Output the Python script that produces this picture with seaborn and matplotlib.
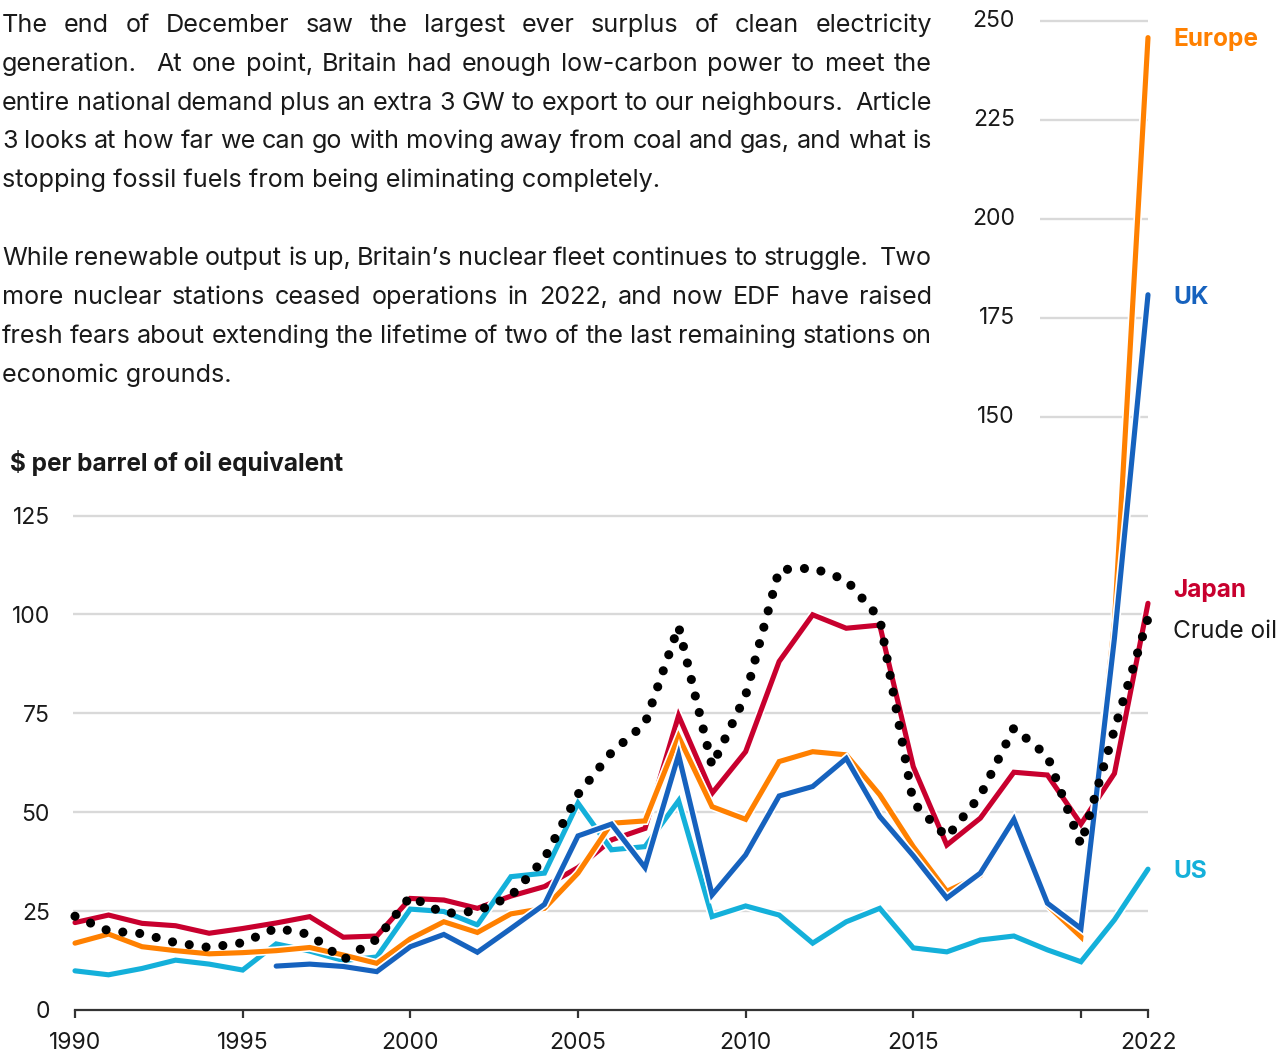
import matplotlib
matplotlib.use("Agg")
import matplotlib.pyplot as plt
import matplotlib.patheffects as pe
import numpy as np
import pandas as pd
import seaborn as sns

# ---------------------------------------------------------------- data
years = list(range(1990, 2023))

japan = [22.1, 24.0, 21.9, 21.3, 19.4, 20.6, 22.0, 23.6, 18.4, 18.7,
         28.2, 27.8, 25.7, 28.8, 31.2, 36.0, 43.0, 45.9, 74.4, 54.8,
         65.3, 88.1, 99.9, 96.5, 97.3, 61.5, 41.7, 48.5, 60.1, 59.4,
         47.0, 59.8, 102.8]
us = [9.9, 8.9, 10.5, 12.6, 11.6, 10.1, 16.7, 14.9, 12.5, 13.4,
      25.5, 24.9, 21.5, 33.7, 34.6, 52.3, 40.5, 41.3, 52.9, 23.6,
      26.3, 24.0, 16.9, 22.3, 25.7, 15.7, 14.7, 17.7, 18.7, 15.2,
      12.2, 22.8, 35.6]
europe = [16.9, 19.2, 16.0, 15.0, 14.2, 14.5, 15.0, 15.8, 13.9, 11.8,
          18.0, 22.3, 19.6, 24.3, 25.7, 34.6, 47.2, 47.8, 69.1, 51.4,
          48.2, 62.8, 65.3, 64.5, 54.4, 41.3, 30.0, 34.0, 47.8, 26.5,
          18.5, 98.0, 245.8]
uk = [np.nan, np.nan, np.nan, np.nan, np.nan, np.nan, 11.1, 11.6, 11.0, 9.7,
      16.0, 19.1, 14.6, 20.6, 26.7, 44.0, 47.0, 36.0, 64.5, 29.1,
      39.2, 54.1, 56.5, 63.6, 48.9, 39.0, 28.3, 34.6, 48.2, 27.0,
      20.6, 94.0, 180.8]
crude_oil = [23.7, 20.0, 19.3, 17.0, 15.8, 17.0, 20.7, 19.1, 12.7, 17.9,
             28.7, 24.4, 25.0, 28.8, 38.3, 54.5, 65.1, 72.4, 97.0, 61.7,
             79.5, 111.3, 111.7, 108.7, 99.0, 52.4, 43.7, 54.2, 71.3, 64.2,
             41.8, 70.9, 99.0]

x_ticks = [1990, 1995, 2000, 2005, 2010, 2015, 2020, 2022]
x_tick_labels = ["1990", "1995", "2000", "2005", "2010", "2015", "", "2022"]
y_ticks_low = [0, 25, 50, 75, 100, 125]
y_ticks_high = [150, 175, 200, 225, 250]

y_title = "$ per barrel of oil equivalent"

paragraphs = [
    ["The end of December saw the largest ever surplus of clean electricity",
     "generation.  At one point, Britain had enough low-carbon power to meet the",
     "entire national demand plus an extra 3 GW to export to our neighbours.  Article",
     "3 looks at how far we can go with moving away from coal and gas, and what is",
     "stopping fossil fuels from being eliminating completely."],
    ["While renewable output is up, Britain\u2019s nuclear fleet continues to struggle.  Two",
     "more nuclear stations ceased operations in 2022, and now EDF have raised",
     "fresh fears about extending the lifetime of two of the last remaining stations on",
     "economic grounds."],
]

df = pd.DataFrame({"year": years, "Japan": japan, "US": us,
                   "Europe": europe, "UK": uk, "Crude oil": crude_oil})

# ---------------------------------------------------------------- style
COLORS = {"Europe": "#FF8000", "UK": "#1662BE", "Japan": "#C8002E",
          "US": "#14B0DA"}
GRID = "#D9D9D9"
INK = "#1A1A1A"

W, H, DPI = 1288, 1053, 100

sns.set_theme(style="white")
plt.rcParams["font.family"] = ["Inter", "DejaVu Sans"]

fig = plt.figure(figsize=(W / DPI, H / DPI), dpi=DPI)
fig.patch.set_facecolor("white")

# axes frame in pixel terms: x 1990..2022 -> 75..1148, y 0..250 -> 1010..21
AX_L, AX_R, AX_B, AX_T = 75, 1148, 1010, 21
ax = fig.add_axes([AX_L / W, 1 - AX_B / H, (AX_R - AX_L) / W, (AX_B - AX_T) / H])
ax.set_xlim(1990, 2022)
ax.set_ylim(0, 250)
ax.set_facecolor("none")

px_per_year = (AX_R - AX_L) / (2022 - 1990)


def x_at(px):
    return 1990 + (px - AX_L) / px_per_year


# gridlines: full width up to 125, short stubs on the right above it
for v in y_ticks_low[1:]:
    ax.hlines(v, x_at(73), 2022, color=GRID, lw=1.7, zorder=1, clip_on=False)
for v in y_ticks_high:
    ax.hlines(v, x_at(1040), 2022, color=GRID, lw=1.7, zorder=1, clip_on=False)

# gas price series, each with a thin white halo
LW = 3.7
halo = [pe.Stroke(linewidth=LW + 2.4, foreground="white"), pe.Normal()]
for z, name in enumerate(["Japan", "US", "Europe", "UK"]):
    sns.lineplot(data=df, x="year", y=name, ax=ax, color=COLORS[name],
                 linewidth=LW, zorder=3 + z, clip_on=False,
                 solid_joinstyle="miter", solid_capstyle="round",
                 path_effects=halo)

# crude oil as a round-dotted line
sns.lineplot(data=df, x="year", y="Crude oil", ax=ax, color="black",
             linewidth=6.6, zorder=8, clip_on=False)
crude_line = ax.lines[-1]
crude_line.set_linestyle((0, (0.001, 1.85)))
crude_line.set_dash_capstyle("round")

# end-of-line labels
label_x = 2022 + 25 / px_per_year
LABEL_SIZE = 17.6
ax.text(label_x, 245.3, "Europe", color=COLORS["Europe"], fontsize=LABEL_SIZE,
        fontweight="bold", va="center", ha="left")
ax.text(label_x, 180.2, "UK", color=COLORS["UK"], fontsize=LABEL_SIZE,
        fontweight="bold", va="center", ha="left")
ax.text(label_x, 106.1, "Japan", color=COLORS["Japan"], fontsize=LABEL_SIZE,
        fontweight="bold", va="center", ha="left")
ax.text(label_x, 95.7, "Crude oil", color=INK, fontsize=LABEL_SIZE,
        va="center", ha="left")
ax.text(label_x, 35.0, "US", color=COLORS["US"], fontsize=LABEL_SIZE,
        fontweight="bold", va="center", ha="left")

# axes, ticks and tick labels
for side in ["left", "right", "top"]:
    ax.spines[side].set_visible(False)
ax.spines["bottom"].set_color("#333333")
ax.spines["bottom"].set_linewidth(1.6)
ax.spines["bottom"].set_zorder(9)

TICK_SIZE = 16.5
ax.set_xticks(x_ticks)
ax.set_xticklabels(x_tick_labels)
ax.tick_params(axis="x", direction="out", length=6, width=1.6, color="#333333",
               pad=10, labelsize=TICK_SIZE, labelcolor=INK, bottom=True)
ax.set_yticks(y_ticks_low)
ax.set_yticklabels([str(v) for v in y_ticks_low])
ax.tick_params(axis="y", length=0, pad=18, labelsize=TICK_SIZE, labelcolor=INK)
for v in y_ticks_high:
    ax.text(x_at(1015), v, str(v), fontsize=TICK_SIZE, color=INK,
            ha="right", va="center")
ax.set_xlabel("")
ax.set_ylabel("")

# unit title above the lower scale
fig.text(10 / W, 1 - 463 / H, y_title, fontsize=17.5, fontweight="bold",
         color=INK, ha="left", va="center")

# ---------------------------------------------------------------- body text
renderer = fig.canvas.get_renderer()


def text_width(s, size):
    t = fig.text(0, 0, s, fontsize=size)
    w = t.get_window_extent(renderer).width
    t.remove()
    return w


BODY_LEFT, BODY_RIGHT = 2, 932
body_size = 16.0
body_size *= 660 / text_width(paragraphs[0][-1], body_size)


def put_line(line, baseline, justify):
    if not justify:
        fig.text(BODY_LEFT / W, 1 - baseline / H, line, fontsize=body_size,
                 color=INK, ha="left", va="baseline")
        return
    tokens = line.split(" ")
    words = [w for w in tokens if w]
    gaps = len(tokens) - 1
    widths = [text_width(w, body_size) for w in words]
    space = (BODY_RIGHT - BODY_LEFT - sum(widths)) / gaps
    x = BODY_LEFT
    wi = 0
    for tok in tokens:
        if tok:
            fig.text(x / W, 1 - baseline / H, tok, fontsize=body_size,
                     color=INK, ha="left", va="baseline")
            x += widths[wi]
            wi += 1
        x += space


baselines = [[32, 71, 110, 148, 187], [265, 304, 343, 382]]
for para, bls in zip(paragraphs, baselines):
    for i, (line, bl) in enumerate(zip(para, bls)):
        put_line(line, bl, justify=(i < len(para) - 1))

fig.savefig("out.png", dpi=DPI, facecolor="white")
